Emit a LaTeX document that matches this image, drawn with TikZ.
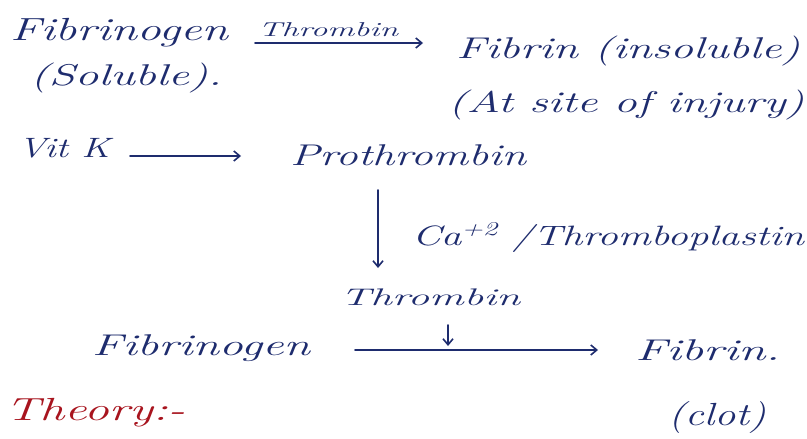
\documentclass[tikz,border=0pt]{standalone}
\usepackage{fontspec}
\usepackage{graphicx}
\usetikzlibrary{arrows.meta}
\definecolor{ink}{HTML}{1E2C6E}
\definecolor{redink}{HTML}{A8141E}
\newcommand{\hwtext}[3]{{\fontsize{#1}{#1}\selectfont\itshape\resizebox{#2pt}{\height}{#3}}}
\tikzset{
  hand/.style={inner sep=0pt, outer sep=0pt, anchor=base west, text=ink},
  arr/.style={draw=ink, line width=1.6pt, line cap=round, -{Straight Barb[length=6pt,width=10pt,line width=1.6pt]}},
}
\begin{document}
\begin{tikzpicture}[x=1pt,y=1pt]
\useasboundingbox[fill=white] (0,0) rectangle (807,-439);
% top line
\node[hand] (fibA) at (10,-40) {\hwtext{32}{218}{Fibrinogen}};
\node[hand] (thrA) at (258,-36) {\hwtext{20}{140}{Thrombin}};
\node[hand] (fibrinA) at (456,-58) {\hwtext{30}{344}{Fibrin (insoluble)}};
\node[hand] (sol) at (30,-85) {\hwtext{30}{192}{(Soluble).}};
\node[hand] (site) at (448,-112) {\hwtext{30}{356}{(At site of injury)}};
\coordinate (a1s) at (255,-43);
\coordinate (a1e) at (423,-43);
\draw[arr] (a1s) -- (a1e);
% vit K
\node[hand] (vitk) at (18,-157) {\hwtext{28}{92}{Vit K}};
\node[hand] (pro) at (290,-165) {\hwtext{30}{236}{Prothrombin}};
\coordinate (a2s) at (130,-156);
\coordinate (a2e) at (241,-156);
\draw[arr] (a2s) -- (a2e);
% vertical
\coordinate (a3s) at (378,-190);
\coordinate (a3e) at (378,-268);
\draw[arr] (a3s) -- (a3e);
\node[hand] (ca) at (412,-245) {\hwtext{28}{392}{Ca\textsuperscript{+2} /Thromboplastin}};
% bottom
\node[hand] (thrB) at (340,-305) {\hwtext{24}{180}{Thrombin}};
\coordinate (a4s) at (448,-325);
\coordinate (a4e) at (448,-346);
\draw[arr] (a4s) -- (a4e);
\node[hand] (fibB) at (92,-355) {\hwtext{30}{218}{Fibrinogen}};
\coordinate (a5s) at (355,-350);
\coordinate (a5e) at (598,-350);
\draw[arr] (a5s) -- (a5e);
\node[hand] (fibrinB) at (635,-360) {\hwtext{30}{145}{Fibrin.}};
\node[hand] (clot) at (668,-425) {\hwtext{32}{98}{(clot)}};
\node[hand, text=redink] (theory) at (5,-420) {\hwtext{32}{180}{Theory:-}};
\end{tikzpicture}
\end{document}
